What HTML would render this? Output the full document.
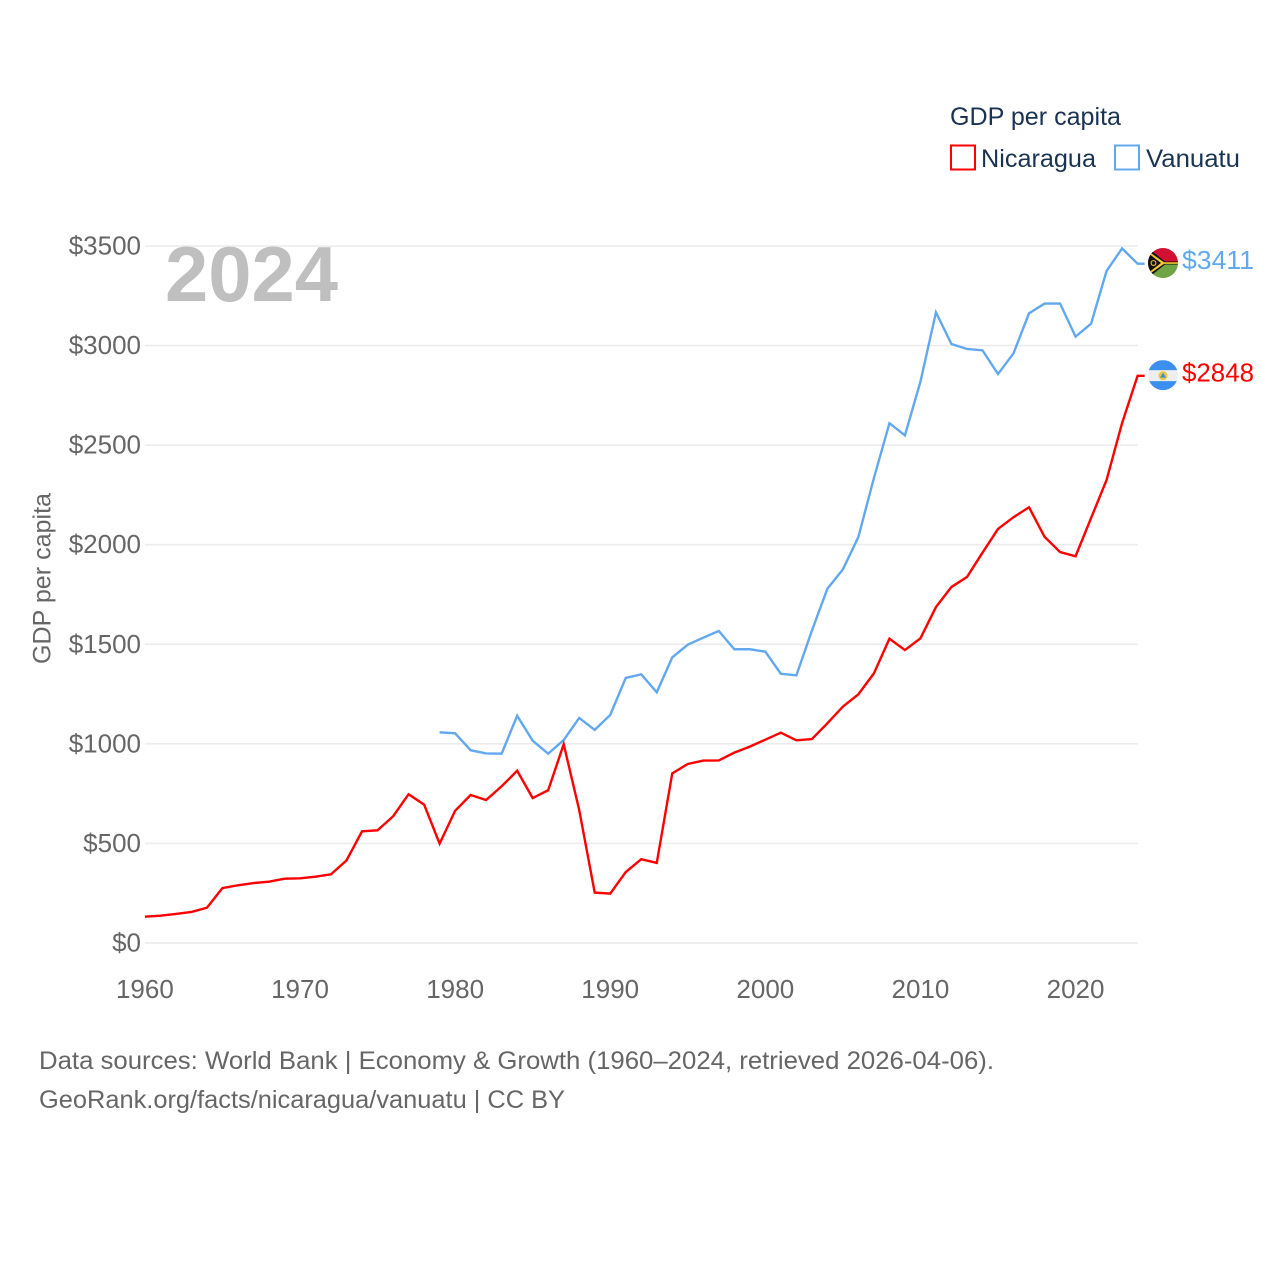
<!DOCTYPE html>
<html lang="en">
<head>
<meta charset="utf-8">
<title>GDP per capita: Nicaragua and Vanuatu</title>
<style>
html,body{margin:0;padding:0;background:#fff;}
svg{display:block;font-family:"Liberation Sans",Arial,sans-serif;}
</style>
</head>
<body>
<svg id="chart" xmlns="http://www.w3.org/2000/svg" width="1280" height="1280" viewBox="0 0 1280 1280">
  <defs>
    <clipPath id="flag-clip-a"><circle cx="0" cy="0" r="15"></circle></clipPath>
  </defs>
  <g id="grid"></g>
  <g id="y-ticks"></g>
  <g id="x-ticks"></g>
  <text transform="translate(50.5,578.5) rotate(-90)" text-anchor="middle" font-size="25" fill="#666" textLength="171" lengthAdjust="spacingAndGlyphs">GDP per capita</text>
  <text x="165" y="301" font-size="78" font-weight="700" fill="#bfbfbf" textLength="173" lengthAdjust="spacingAndGlyphs">2024</text>
  <g id="series"></g>

  <g id="flag-vanuatu" clip-path="url(#flag-clip-a)">
    <rect x="-15" y="-15" width="30" height="15" fill="#d21034"></rect>
    <rect x="-15" y="0" width="30" height="15" fill="#6fa544"></rect>
    <path d="M-15,-15 L2,-1.5 L15,-1.5 L15,1.5 L2,1.5 L-15,15 Z" fill="#111"></path>
    <path d="M-15,-12 L1,-0.8 L15,-0.8 L15,0.8 L1,0.8 L-15,12 L-15,10 L-2,0 L-15,-10 Z" fill="#f5c92e"></path>
    <circle cx="-9.5" cy="0" r="2.4" fill="none" stroke="#f5c92e" stroke-width="1.1"></circle>
  </g>
  <g id="flag-nicaragua" clip-path="url(#flag-clip-a)">
    <rect x="-15" y="-15" width="30" height="30" fill="#eeeeee"></rect>
    <rect x="-15" y="-15" width="30" height="10" fill="#3a8ff0"></rect>
    <rect x="-15" y="6" width="30" height="10" fill="#3a8ff0"></rect>
    <circle cx="0" cy="0.5" r="4.5" fill="#e8c84a"></circle>
    <path d="M-3,2.5 L0,-2.5 L3,2.5 Z" fill="#4a8fc0"></path>
  </g>
  <g id="end-labels"></g>

  <g>
    <text x="950" y="125" font-size="25" fill="#1a3353" textLength="171" lengthAdjust="spacingAndGlyphs">GDP per capita</text>
    <g>
      <rect x="951" y="145.5" width="24" height="24" fill="none" stroke="#ff0000" stroke-width="2"></rect>
      <text x="981" y="167" font-size="25" fill="#1a3353" textLength="115" lengthAdjust="spacingAndGlyphs">Nicaragua</text>
    </g>
    <g>
      <rect x="1115" y="145.5" width="24" height="24" fill="none" stroke="#62a8ef" stroke-width="2"></rect>
      <text x="1146" y="167" font-size="25" fill="#1a3353" textLength="94" lengthAdjust="spacingAndGlyphs">Vanuatu</text>
    </g>
  </g>

  <g>
    <text x="39" y="1069" font-size="25" fill="#666" textLength="955" lengthAdjust="spacingAndGlyphs">Data sources: World Bank | Economy &amp; Growth (1960–2024, retrieved 2026-04-06).</text>
    <text x="39" y="1108" font-size="25" fill="#666" textLength="526" lengthAdjust="spacingAndGlyphs">GeoRank.org/facts/nicaragua/vanuatu | CC BY</text>
  </g>
</svg>
<script>
var years = [1960,1961,1962,1963,1964,1965,1966,1967,1968,1969,1970,1971,1972,1973,1974,1975,1976,1977,1978,1979,1980,1981,1982,1983,1984,1985,1986,1987,1988,1989,1990,1991,1992,1993,1994,1995,1996,1997,1998,1999,2000,2001,2002,2003,2004,2005,2006,2007,2008,2009,2010,2011,2012,2013,2014,2015,2016,2017,2018,2019,2020,2021,2022,2023,2024];
var nicaraguaValues = [132,137,146,156,177,276,290,301,308,323,325,333,345,415,561,566,636,747,695,499,664,743,718,787,865,728,767,998,668,253,248,356,421,402,852,899,916,917,956,986,1021,1056,1018,1024,1103,1187,1249,1354,1528,1471,1530,1687,1788,1838,1960,2079,2138,2188,2040,1963,1942,2134,2325,2611,2848];
var vanuatuValues = [null,null,null,null,null,null,null,null,null,null,null,null,null,null,null,null,null,null,null,1058,1053,968,952,951,1141,1016,951,1019,1130,1070,1145,1331,1349,1259,1434,1498,1533,1567,1475,1475,1463,1352,1344,1568,1779,1876,2039,2335,2610,2549,2819,3167,3008,2983,2976,2857,2961,3162,3211,3211,3045,3110,3375,3488,3411];
var yTickValues = [0,500,1000,1500,2000,2500,3000,3500];
var xTickValues = [1960,1970,1980,1990,2000,2010,2020];

var SVG_NS = 'http://www.w3.org/2000/svg';
var plotLeft = 144.9, plotRight = 1137.6, plotBottom = 943, plotTop = 246;
var xMin = 1960, xMax = 2024, yMin = 0, yMax = 3500;

function xScale(year) {
  return plotLeft + (year - xMin) * (plotRight - plotLeft) / (xMax - xMin);
}
function yScale(value) {
  return plotBottom - (value - yMin) * (plotBottom - plotTop) / (yMax - yMin);
}
function make(tag, attrs, parent, text) {
  var el = document.createElementNS(SVG_NS, tag);
  for (var k in attrs) { el.setAttribute(k, attrs[k]); }
  if (text !== undefined) { el.textContent = text; }
  parent.appendChild(el);
  return el;
}

var gridGroup = document.getElementById('grid');
var yTickGroup = document.getElementById('y-ticks');
var xTickGroup = document.getElementById('x-ticks');
var seriesGroup = document.getElementById('series');
var endLabelGroup = document.getElementById('end-labels');

yTickValues.forEach(function (v) {
  var y = yScale(v);
  var line = make('line', {x1: plotLeft, x2: 1138, y1: y, y2: y, stroke: '#ececec', 'stroke-width': 1.6}, gridGroup);
  
  
  var label = make('text', {x: 141, y: y + 8.5, 'text-anchor': 'end', 'font-size': 26, fill: '#666'}, yTickGroup, '$' + v);
  
  
});

xTickValues.forEach(function (yr) {
  var label = make('text', {x: xScale(yr), y: 998, 'text-anchor': 'middle', 'font-size': 26, fill: '#666'}, xTickGroup, String(yr));
  
  
});

function drawSeries(values, color, seriesName, flagId) {
  var pts = [];
  var lastValue = null;
  values.forEach(function (v, i) {
    if (v === null) { return; }
    pts.push(xScale(years[i]).toFixed(2) + ',' + yScale(v).toFixed(2));
    lastValue = v;
  });
  var endX = xScale(years[years.length - 1]);
  var endY = yScale(lastValue);
  pts.push((endX + 7).toFixed(2) + ',' + endY.toFixed(2));
  var line = make('polyline', {points: pts.join(' '), fill: 'none', stroke: color, 'stroke-width': 2.4, 'stroke-linejoin': 'miter'}, seriesGroup);
  
  
  document.getElementById(flagId).setAttribute('transform', 'translate(1163,' + (endY - 0.7).toFixed(2) + ')');
  var label = make('text', {x: 1182, y: endY + 5.5, 'font-size': 26, fill: color, textLength: 72, lengthAdjust: 'spacingAndGlyphs'}, endLabelGroup, '$' + lastValue);
  
  
}

drawSeries(vanuatuValues, '#62a8ef', 'vanuatu', 'flag-vanuatu');
drawSeries(nicaraguaValues, '#ff0000', 'nicaragua', 'flag-nicaragua');
</script>
</body>
</html>
